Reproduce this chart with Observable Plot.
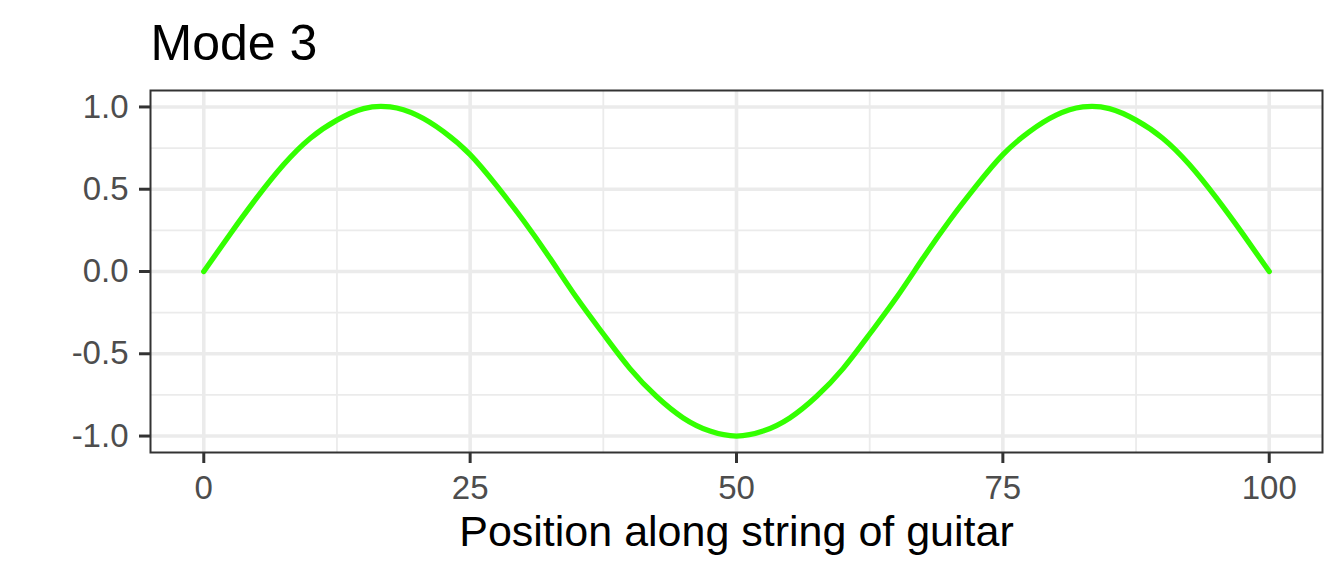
<!DOCTYPE html>
<html>
<head>
<meta charset="utf-8">
<script src="https://cdn.jsdelivr.net/npm/d3@7"></script>
<script src="https://cdn.jsdelivr.net/npm/@observablehq/plot@0.6"></script>
<style>
  html, body { margin: 0; padding: 0; background: #ffffff; }
  #chart { width: 1344px; height: 576px; }
</style>
</head>
<body>
<div id="chart"></div>
<script>
// Data
const titleText = "Mode 3";
const xLabel = "Position along string of guitar";
const positions = [0, 2.5, 5, 7.5, 10, 12.5, 15, 17.5, 20, 22.5, 25, 27.5, 30, 32.5, 35, 37.5, 40, 42.5, 45, 47.5, 50,
                   52.5, 55, 57.5, 60, 62.5, 65, 67.5, 70, 72.5, 75, 77.5, 80, 82.5, 85, 87.5, 90, 92.5, 95, 97.5, 100];
const amplitudes = [0, 0.23, 0.45, 0.65, 0.81, 0.92, 0.99, 1.0, 0.95, 0.85, 0.71, 0.52, 0.31, 0.08, -0.16, -0.38, -0.59, -0.76, -0.89, -0.97, -1.0,
                    -0.97, -0.89, -0.76, -0.59, -0.38, -0.16, 0.08, 0.31, 0.52, 0.71, 0.85, 0.95, 1.0, 0.99, 0.92, 0.81, 0.65, 0.45, 0.23, 0];
const xTicks = [0, 25, 50, 75, 100];
const xMinor = [12.5, 37.5, 62.5, 87.5];
const yTicks = [-1, -0.5, 0, 0.5, 1];
const yMinor = [-0.75, -0.25, 0.25, 0.75];

const data = positions.map((p, i) => ({x: p, y: amplitudes[i]}));

const gridColor = "#EBEBEB";
const chart = Plot.plot({
  width: 1344,
  height: 576,
  marginLeft: 150,
  marginRight: 22,
  marginTop: 90,
  marginBottom: 124,
  style: {fontFamily: "'Liberation Sans', Arial, sans-serif", background: "#ffffff", overflow: "visible"},
  x: {domain: [-5, 105]},
  y: {domain: [-1.1, 1.1]},
  marks: [
    Plot.gridX(xMinor, {stroke: gridColor, strokeOpacity: 1, strokeWidth: 1.8}),
    Plot.gridY(yMinor, {stroke: gridColor, strokeOpacity: 1, strokeWidth: 1.8}),
    Plot.gridX(xTicks, {stroke: gridColor, strokeOpacity: 1, strokeWidth: 3.6}),
    Plot.gridY(yTicks, {stroke: gridColor, strokeOpacity: 1, strokeWidth: 3.6}),
    Plot.line(data, {x: "x", y: "y", stroke: "#33FF00", strokeWidth: 5.3, curve: "natural"}),
    Plot.frame({stroke: "#333333", strokeWidth: 2}),
    Plot.axisX(xTicks, {tickSize: 11, tickPadding: 12, strokeWidth: 3, stroke: "#333333", fill: "#4D4D4D",
                        fontSize: 33, label: null, tickFormat: d => String(d)}),
    Plot.axisY(yTicks, {tickSize: 11, tickPadding: 11, strokeWidth: 3, stroke: "#333333", fill: "#4D4D4D",
                        fontSize: 33, label: null, tickFormat: d => d.toFixed(1)}),
    Plot.text([xLabel], {frameAnchor: "bottom", textAnchor: "middle", lineAnchor: "bottom", dy: 93,
                         fontSize: 43, fill: "#000000"}),
    Plot.text([titleText], {frameAnchor: "top-left", textAnchor: "start", lineAnchor: "bottom", dx: 0, dy: -31,
                            fontSize: 50, fill: "#000000"})
  ]
});
document.getElementById("chart").appendChild(chart);
</script>
</body>
</html>
